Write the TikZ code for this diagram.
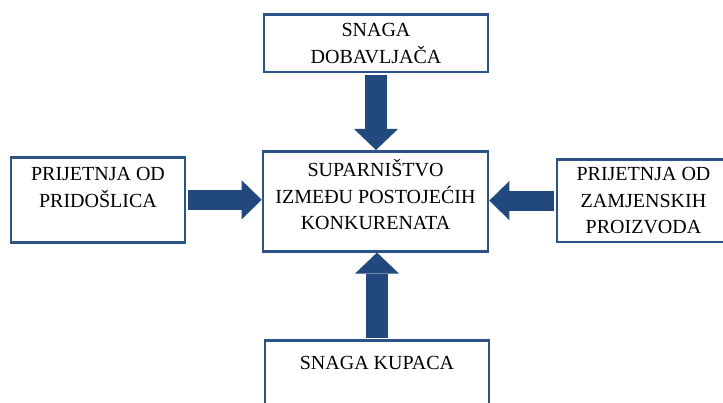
\documentclass[tikz,border=0pt]{standalone}
\usepackage{fontspec}
\setmainfont{Liberation Serif}
\usetikzlibrary{arrows.meta, positioning}
\definecolor{boxblue}{RGB}{44,82,135}
\definecolor{arrowblue}{RGB}{33,73,125}
\tikzset{
	block/.style={draw=boxblue, line width=2.6pt, align=center, inner xsep=0pt,
		font=\fontsize{20pt}{26.8pt}\selectfont},
	force/.style={draw=arrowblue, line width=22pt, shorten <=1.3pt,
		-{Triangle[length=21pt, width=44pt, line width=0pt]}},
	sideforce/.style={force, line width=20pt,
		-{Triangle[length=20pt, width=39pt, line width=0pt]}}
}
\begin{document}
\begin{tikzpicture}[x=1pt, y=-1pt]
		\useasboundingbox (0,0) rectangle (723,403);
		
		\node[block, anchor=north, minimum width=225pt, inner ysep=12pt, text height=66.6pt, text depth=9.4pt] (rivalry) at (375.5,150)
			{SUPARNIŠTVO\\IZMEĐU POSTOJEĆIH\\KONKURENATA};
		\node[block, anchor=north, minimum width=224pt, inner ysep=9pt, text height=39.8pt, text depth=0pt] (suppliers) at (376,13)
			{SNAGA\\DOBAVLJAČA};
		\node[block, anchor=north, minimum width=174pt, inner ysep=10pt, text height=39.8pt, text depth=25.2pt] (entrants) at (98,156)
			{PRIJETNJA OD\\PRIDOŠLICA};
		\node[block, anchor=north, minimum width=173pt, inner ysep=8pt, text height=66.6pt, text depth=0pt] (substitutes) at (643.5,158)
			{PRIJETNJA OD\\ZAMJENSKIH\\PROIZVODA};
		\node[block, anchor=north, minimum width=224pt, inner ysep=16pt, text height=13pt, text depth=40pt] (buyers) at (377,339)
			{SNAGA KUPACA};
		
		% five forces
		\draw[force] (suppliers.south) -- (suppliers.south |- rivalry.north);
		\draw[force] (buyers.north) -- (buyers.north |- rivalry.south);
		\draw[sideforce] (entrants.east) -- (entrants.east -| rivalry.west);
		\draw[sideforce] (substitutes.west) -- (substitutes.west -| rivalry.east);
	\end{tikzpicture}
\end{document}
